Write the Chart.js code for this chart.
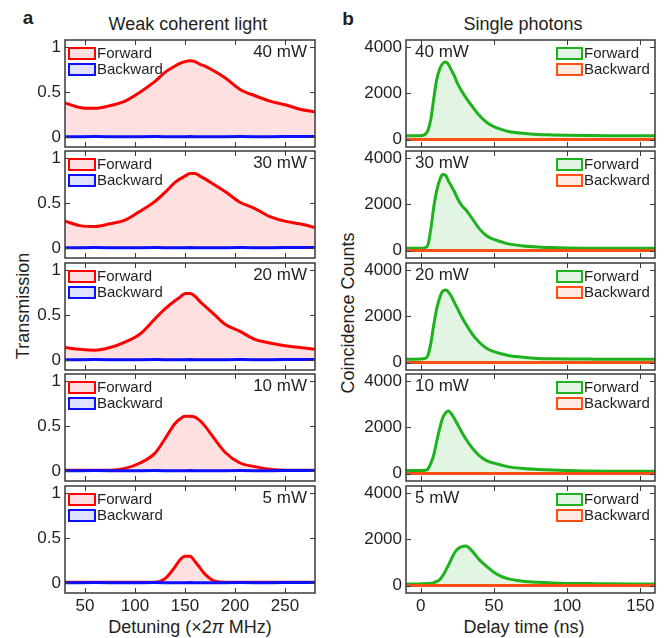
<!DOCTYPE html>
<html>
<head>
<meta charset="utf-8">
<script src="https://cdn.jsdelivr.net/npm/chart.js@4/dist/chart.umd.min.js"></script>
<style>
  body { margin: 0; background: #fff; font-family: "Liberation Sans", Arial, sans-serif; color: #231f20; }
  #wrap { position: relative; width: 664px; height: 638px; overflow: hidden; }
  canvas { position: absolute; }
  .t { position: absolute; white-space: nowrap; font-size: 18px; line-height: 1; transform: translate(-50%, -50%); }
  .v { transform: translate(-50%, -50%) rotate(-90deg); }
  .b { font-weight: bold; font-size: 19px; }
</style>
</head>
<body>
<div id="wrap">
  <div class="t b" style="left:28px;top:16.5px">a</div>
  <div class="t b" style="left:348px;top:17.5px">b</div>
  <div class="t" style="left:188px;top:23.5px">Weak coherent light</div>
  <div class="t" style="left:523px;top:23.5px">Single photons</div>
  <div class="t v" style="left:23px;top:306px">Transmission</div>
  <div class="t v" style="left:348px;top:313px">Coincidence Counts</div>
  <div class="t" style="left:190px;top:627px">Detuning (×2<i>π</i> MHz)</div>
  <div class="t" style="left:524px;top:627px">Delay time (ns)</div>
</div>
<script>
// ---- data ----
const powers = ['40 mW', '30 mW', '20 mW', '10 mW', '5 mW'];

// panel a: transmission vs detuning (x2pi MHz)
const detuning = [30, 45, 60, 75, 90, 105, 120, 130, 140, 145, 150, 155, 160, 165, 170, 180, 190, 205, 220, 235, 250, 265, 280];
const trans40 = [0.38, 0.33, 0.32, 0.35, 0.40, 0.50, 0.62, 0.72, 0.79, 0.82, 0.84, 0.85, 0.84, 0.81, 0.79, 0.73, 0.66, 0.53, 0.46, 0.40, 0.36, 0.31, 0.28];
const trans30 = [0.30, 0.25, 0.24, 0.27, 0.31, 0.41, 0.52, 0.62, 0.73, 0.77, 0.80, 0.83, 0.83, 0.80, 0.77, 0.70, 0.63, 0.51, 0.44, 0.35, 0.30, 0.27, 0.23];
const trans20 = [0.14, 0.12, 0.11, 0.14, 0.20, 0.29, 0.46, 0.57, 0.66, 0.70, 0.74, 0.74, 0.71, 0.65, 0.60, 0.50, 0.40, 0.32, 0.23, 0.19, 0.16, 0.14, 0.12];
const trans10 = [0.01, 0.01, 0.01, 0.01, 0.03, 0.09, 0.20, 0.36, 0.53, 0.58, 0.61, 0.61, 0.60, 0.56, 0.50, 0.35, 0.21, 0.09, 0.05, 0.02, 0.01, 0.01, 0.01];
const trans5 = [0.01, 0.01, 0.01, 0.01, 0.01, 0.01, 0.01, 0.05, 0.18, 0.26, 0.30, 0.30, 0.24, 0.17, 0.10, 0.02, 0.01, 0.01, 0.01, 0.01, 0.01, 0.01, 0.01];
const transBack = [0.005, 0.005, 0.006, 0.005, 0.004, 0.005, 0.006, 0.005, 0.005, 0.004, 0.005, 0.006, 0.005, 0.005, 0.004, 0.005, 0.005, 0.006, 0.005, 0.005, 0.006, 0.007, 0.008];

// panel b: coincidence counts vs delay time (ns)
const delay = [-10, -5, 0, 3, 5, 7, 9, 11, 13, 15, 17, 19, 21, 23, 25, 28, 31, 35, 40, 45, 50, 55, 60, 70, 80, 90, 100, 115, 130, 145, 160];
const counts40 = [170, 170, 170, 220, 400, 900, 1800, 2600, 3050, 3280, 3350, 3250, 3000, 2750, 2450, 2100, 1800, 1450, 1050, 750, 560, 440, 350, 270, 220, 200, 185, 175, 170, 170, 170];
const counts30 = [100, 100, 100, 130, 250, 950, 1900, 2600, 3050, 3280, 3250, 3000, 2780, 2550, 2270, 1950, 1750, 1400, 950, 640, 480, 380, 290, 200, 160, 130, 115, 105, 100, 100, 100];
const counts20 = [150, 145, 150, 180, 320, 850, 1650, 2340, 2800, 3080, 3130, 3050, 2850, 2600, 2350, 1980, 1650, 1250, 880, 620, 470, 380, 310, 230, 180, 165, 155, 150, 145, 145, 145];
const counts10 = [130, 130, 130, 140, 200, 450, 820, 1400, 1950, 2400, 2620, 2700, 2580, 2380, 2150, 1800, 1480, 1120, 780, 560, 450, 370, 290, 220, 180, 150, 130, 115, 105, 100, 100];
const counts5 = [70, 70, 75, 80, 90, 100, 130, 180, 260, 420, 640, 880, 1150, 1400, 1560, 1680, 1710, 1500, 1120, 830, 580, 400, 290, 190, 140, 110, 95, 85, 75, 70, 70];
const countsBack = [0, 0, 0, 0, 0, 0, 0, 0, 0, 0, 0, 0, 0, 0, 0, 0, 0, 0, 0, 0, 0, 0, 0, 0, 0, 0, 0, 0, 0, 0, 0];

// tick labels
const detuningTicks = [50, 100, 150, 200, 250];
const transTicks = [0, 0.5, 1];
const delayTicks = [0, 50, 100, 150];
const countTicks = [0, 2000, 4000];

// ---- layout ----
Chart.defaults.font.family = '"Liberation Sans", Arial, sans-serif';
Chart.defaults.color = '#231f20';
const FONT = '"Liberation Sans", Arial, sans-serif';

const panelTops = [40, 151, 263, 374, 486];
const panelH = 107;
const padT = 8;

const columns = [
  {
    left: 0, width: 322, axisW: 65, padR: 7,
    xs: detuning, xMin: 30, xMax: 280, yMin: -0.11, yMax: 1.08,
    xTicks: detuningTicks, yTicks: transTicks,
    fwd: [trans40, trans30, trans20, trans10, trans5], back: transBack,
    fwdColor: '#ff0000', fwdFill: 'rgba(255,0,0,0.12)',
    backColor: '#0a10ff', backFill: 'rgba(10,16,255,0.12)',
    side: 'left'
  },
  {
    left: 335, width: 327, axisW: 71, padR: 7,
    xs: delay, xMin: -10, xMax: 160, yMin: -320, yMax: 4300,
    xTicks: delayTicks, yTicks: countTicks,
    fwd: [counts40, counts30, counts20, counts10, counts5], back: countsBack,
    fwdColor: '#1fb21f', fwdFill: 'rgba(31,178,31,0.13)',
    backColor: '#ff5014', backFill: 'rgba(255,80,20,0.12)',
    side: 'right'
  }
];

// box, inward ticks, legend and power label
const frame = {
  id: 'frame',
  afterDraw(chart, args, o) {
    const { ctx, chartArea: a, scales: { x, y } } = chart;
    ctx.save();
    ctx.strokeStyle = '#3a3a3a';
    ctx.lineWidth = 1;
    ctx.beginPath();
    o.xTicks.forEach(v => {
      const px = Math.round(x.getPixelForValue(v)) + 0.5;
      ctx.moveTo(px, a.bottom); ctx.lineTo(px, a.bottom - 5);
      ctx.moveTo(px, a.top); ctx.lineTo(px, a.top + 5);
    });
    o.yTicks.forEach(v => {
      const py = Math.round(y.getPixelForValue(v)) + 0.5;
      ctx.moveTo(a.left, py); ctx.lineTo(a.left + 5, py);
      ctx.moveTo(a.right, py); ctx.lineTo(a.right - 5, py);
    });
    ctx.stroke();
    ctx.lineWidth = 1.5;
    ctx.strokeRect(a.left, a.top, a.right - a.left, a.bottom - a.top);

    // legend
    ctx.font = '15px ' + FONT;
    ctx.textBaseline = 'middle';
    ctx.textAlign = 'left';
    o.items.forEach((it, k) => {
      const bx = o.side === 'left' ? a.left + 4 : a.right - 98;
      const bw = o.side === 'left' ? 26 : 25;
      const by = a.top + 8 + k * 16;
      ctx.fillStyle = '#fff';
      ctx.fillRect(bx, by, bw, 11);
      ctx.fillStyle = it.fill;
      ctx.fillRect(bx, by, bw, 11);
      ctx.strokeStyle = it.line;
      ctx.lineWidth = 2;
      ctx.strokeRect(bx, by, bw, 11);
      ctx.fillStyle = '#231f20';
      ctx.fillText(it.label, bx + bw + 2, by + 6);
    });

    // power label
    ctx.font = '17px ' + FONT;
    if (o.side === 'left') {
      ctx.textAlign = 'right';
      ctx.fillText(o.power, a.right - 8, a.top + 12);
    } else {
      ctx.textAlign = 'left';
      ctx.fillText(o.power, a.left + 9, a.top + 12);
    }
    ctx.restore();
  }
};

const wrap = document.getElementById('wrap');

columns.forEach(col => {
  panelTops.forEach((top, i) => {
    const last = i === panelTops.length - 1;
    const cTop = top - padT;
    const cH = last ? 638 - cTop : panelH + 2 * padT;
    const xAxisH = last ? cH - padT - panelH : 0;

    const canvas = document.createElement('canvas');
    canvas.width = col.width;
    canvas.height = cH;
    canvas.style.left = col.left + 'px';
    canvas.style.top = cTop + 'px';
    wrap.appendChild(canvas);

    new Chart(canvas.getContext('2d'), {
      type: 'line',
      data: {
        labels: col.xs,
        datasets: [
          {
            label: 'Forward',
            data: col.xs.map((v, k) => ({ x: v, y: col.fwd[i][k] })),
            borderColor: col.fwdColor,
            backgroundColor: col.fwdFill,
            borderWidth: 3,
            fill: 'origin',
            pointRadius: 0,
            cubicInterpolationMode: 'monotone',
            order: 1
          },
          {
            label: 'Backward',
            data: col.xs.map((v, k) => ({ x: v, y: col.back[k] })),
            borderColor: col.backColor,
            backgroundColor: col.backFill,
            borderWidth: 3,
            fill: false,
            pointRadius: 0,
            order: 0
          }
        ]
      },
      options: {
        responsive: false,
        animation: false,
        devicePixelRatio: 1,
        layout: { padding: { left: 0, top: padT, right: col.padR, bottom: last ? 0 : padT } },
        plugins: {
          legend: { display: false },
          tooltip: { enabled: false },
          frame: {
            xTicks: col.xTicks, yTicks: col.yTicks, side: col.side, power: powers[i],
            items: [
              { label: 'Forward', line: col.fwdColor, fill: col.fwdFill },
              { label: 'Backward', line: col.backColor, fill: col.backFill }
            ]
          }
        },
        scales: {
          x: {
            type: 'linear',
            min: col.xMin,
            max: col.xMax,
            display: last,
            grid: { display: false, drawTicks: false },
            border: { display: false },
            ticks: { font: { size: 17 }, padding: 3, maxRotation: 0, callback: v => String(v) },
            afterBuildTicks: s => { s.ticks = col.xTicks.map(v => ({ value: v })); },
            afterFit: s => { s.height = xAxisH; s.paddingLeft = 0; s.paddingRight = 0; }
          },
          y: {
            type: 'linear',
            min: col.yMin,
            max: col.yMax,
            grid: { display: false, drawTicks: false },
            border: { display: false },
            ticks: { font: { size: 17 }, padding: 4, callback: v => String(v) },
            afterBuildTicks: s => { s.ticks = col.yTicks.map(v => ({ value: v })); },
            afterFit: s => { s.width = col.axisW; s.paddingTop = 0; s.paddingBottom = 0; }
          }
        }
      },
      plugins: [frame]
    });
  });
});
</script>
</body>
</html>
